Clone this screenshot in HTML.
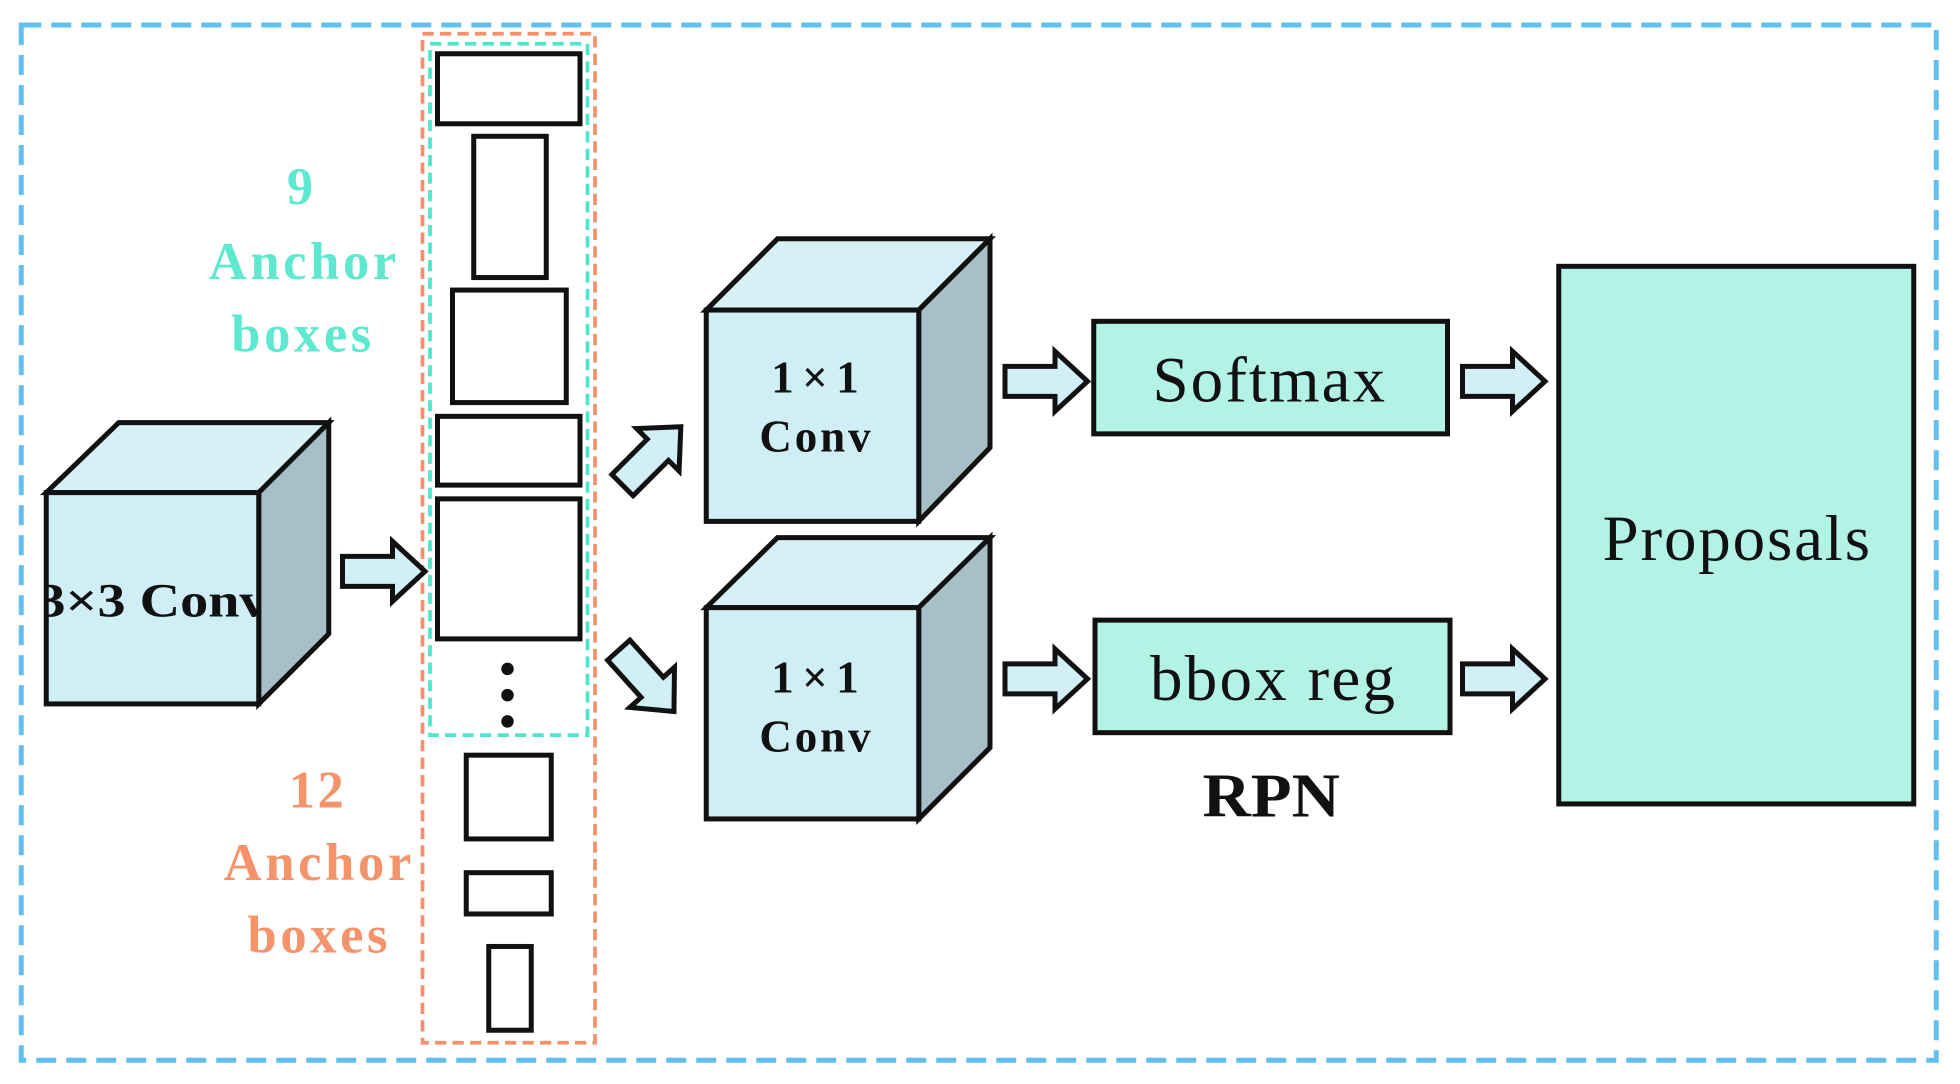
<!DOCTYPE html>
<html><head><meta charset="utf-8"><style>html,body{margin:0;padding:0;background:#fff;width:1960px;height:1084px;overflow:hidden}</style></head>
<body>
<svg width="1960" height="1084" viewBox="0 0 1568 867" preserveAspectRatio="none" xmlns="http://www.w3.org/2000/svg">
<defs>
<g id="ar"><path d="M0,-12 H40 V-24 L66,0 L40,24 V12 H0 Z" fill="#d2eff5" stroke="#111" stroke-width="4" stroke-linejoin="miter"/></g>
</defs>
<rect x="0" y="0" width="1568" height="867" fill="#fff"/>
<rect x="17" y="20" width="1532" height="828" fill="none" stroke="#62c0f0" stroke-width="4" stroke-dasharray="16,8"/>
<rect x="338" y="27" width="138" height="807" fill="none" stroke="#f4906a" stroke-width="3" stroke-dasharray="9,5"/>
<rect x="344" y="35" width="126" height="553" fill="none" stroke="#4ee6cc" stroke-width="3" stroke-dasharray="9,5"/>
<g fill="#fff" stroke="#111" stroke-width="4">
<rect x="350" y="43" width="114" height="56"/>
<rect x="379" y="109" width="58" height="113"/>
<rect x="362" y="232" width="91" height="90"/>
<rect x="350" y="333" width="114" height="55"/>
<rect x="350" y="399" width="114" height="112"/>
<rect x="373" y="604" width="68" height="67"/>
<rect x="373" y="698" width="68" height="33"/>
<rect x="391" y="757" width="34" height="67"/>
</g>
<g fill="#111"><circle cx="406" cy="535" r="5"/><circle cx="406" cy="556" r="5"/><circle cx="406" cy="577" r="5"/></g>
<g font-family="'Liberation Serif','Times New Roman',serif" font-weight="bold" font-size="42" text-anchor="middle" lengthAdjust="spacingAndGlyphs">
<g fill="#5ee8d0"><text x="240" y="163" textLength="22">9</text><text x="242" y="223" textLength="150">Anchor</text><text x="241" y="281" textLength="112">boxes</text></g>
<g fill="#f5946a"><text x="253" y="646" textLength="44">12</text><text x="254" y="704" textLength="150">Anchor</text><text x="254" y="762" textLength="112">boxes</text></g>
</g>
<!-- cube 1 -->
<g stroke="#111" stroke-width="4" stroke-linejoin="miter">
<polygon points="37,394 95,338 263,338 207,394" fill="#d6f0f6"/>
<polygon points="207,394 263,338 263,507 207,563" fill="#a7c0c8"/>
<rect x="37" y="394" width="170" height="169" fill="#d0eef5"/>
</g>
<svg x="37" y="394" width="170" height="169" overflow="hidden"><text x="85" y="99" font-family="'Liberation Serif','Times New Roman',serif" font-weight="bold" font-size="38" text-anchor="middle" fill="#111" textLength="184" lengthAdjust="spacingAndGlyphs">3×3 Conv</text></svg>
<!-- cubes 2,3 -->
<g stroke="#111" stroke-width="4">
<polygon points="565,248 622,191 792,191 735,248" fill="#d6f0f6"/>
<polygon points="735,248 792,191 792,358 735,417" fill="#a7c0c8"/>
<rect x="565" y="248" width="170" height="169" fill="#d0eef5"/>
<polygon points="565,486 622,430 792,430 735,486" fill="#d6f0f6"/>
<polygon points="735,486 792,430 792,598 735,655" fill="#a7c0c8"/>
<rect x="565" y="486" width="170" height="169" fill="#d0eef5"/>
</g>
<g font-family="'Liberation Serif','Times New Roman',serif" font-weight="bold" font-size="36" text-anchor="middle" fill="#111" lengthAdjust="spacingAndGlyphs">
<text x="652" y="314" textLength="70">1×1</text><text x="652" y="361" textLength="89">Conv</text>
<text x="652" y="554" textLength="70">1×1</text><text x="652" y="601" textLength="89">Conv</text>
</g>
<!-- arrows -->
<use href="#ar" transform="translate(274,457)"/>
<use href="#ar" transform="translate(498,388) rotate(-45)"/>
<use href="#ar" transform="translate(495,520) rotate(48)"/>
<use href="#ar" transform="translate(804,305)"/>
<use href="#ar" transform="translate(804,543)"/>
<use href="#ar" transform="translate(1170,305)"/>
<use href="#ar" transform="translate(1170,543)"/>
<!-- boxes -->
<g fill="#b3f3e6" stroke="#111" stroke-width="4">
<rect x="875" y="257" width="283" height="90"/>
<rect x="876" y="496" width="284" height="90"/>
<rect x="1247" y="213" width="284" height="430"/>
</g>
<g font-family="'Liberation Serif','Times New Roman',serif" font-size="52" text-anchor="middle" fill="#111" lengthAdjust="spacingAndGlyphs">
<text x="1015" y="321" textLength="186">Softmax</text>
<text x="1018" y="560" textLength="196">bbox reg</text>
<text x="1389" y="448" textLength="214">Proposals</text>
</g>
<text x="1017" y="653" font-family="'Liberation Serif','Times New Roman',serif" font-weight="bold" font-size="50" text-anchor="middle" fill="#111" textLength="110" lengthAdjust="spacingAndGlyphs">RPN</text>
</svg>
</body></html>
